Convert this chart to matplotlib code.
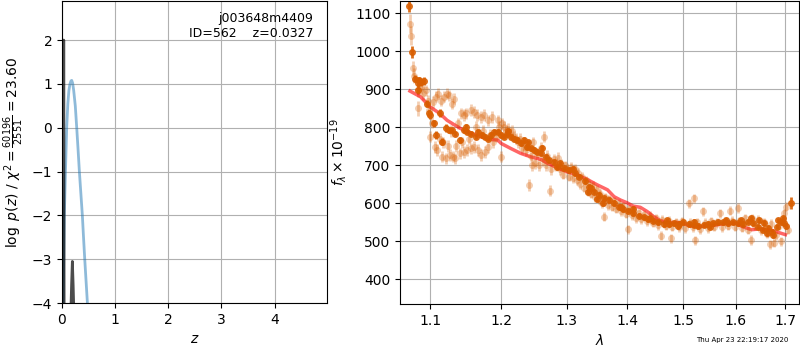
import numpy as np
import matplotlib
matplotlib.use("Agg")
import matplotlib.pyplot as plt
from matplotlib.ticker import NullLocator

# ---------------- left panel data: log p(z) ----------------
z_pz = [0.020, 0.032, 0.044, 0.065, 0.088, 0.110, 0.130, 0.150, 0.170, 0.183,
        0.200, 0.220, 0.250, 0.277, 0.300, 0.327, 0.355, 0.383, 0.405, 0.428,
        0.453, 0.478, 0.490]
logp_pz = [-4.0, -3.0, -2.0, -1.0, 0.0, 0.55, 0.85, 1.00, 1.07, 1.08,
           1.02, 0.85, 0.50, 0.0, -0.45, -1.0, -1.5, -2.0, -2.5, -3.0,
           -3.5, -4.0, -4.3]

z_chi = [0.000, 0.025, 0.0327, 0.040, 0.080, 0.165, 0.180, 0.195, 0.210, 0.225, 0.300]
logp_chi = [-5.0, -4.3, 2.0, -4.3, -6.0, -4.3, -3.6, -3.05, -3.6, -4.3, -6.0]

z_ticks = [0, 1, 2, 3, 4]
logp_ticks = [-4, -3, -2, -1, 0, 1, 2]

# ---------------- right panel data: spectrum ----------------
lam_light = [1.0735, 1.0745, 1.077, 1.079, 1.083, 1.083, 1.087, 1.090, 1.094, 1.097,
             1.099, 1.100, 1.102, 1.104, 1.106, 1.108, 1.109, 1.111, 1.113, 1.115,
             1.116, 1.118, 1.119, 1.121, 1.123, 1.124, 1.126, 1.127, 1.129, 1.130,
             1.131, 1.133, 1.134, 1.136, 1.138, 1.141, 1.142, 1.144, 1.146, 1.147,
             1.150, 1.151, 1.154, 1.156, 1.157, 1.160, 1.161, 1.163, 1.165, 1.167,
             1.170, 1.171, 1.174, 1.175, 1.177, 1.180, 1.181, 1.184, 1.187, 1.188,
             1.192, 1.195, 1.197, 1.200, 1.201, 1.204, 1.207, 1.210, 1.213, 1.216,
             1.219, 1.222, 1.225, 1.228, 1.231, 1.234, 1.237, 1.240, 1.242, 1.244,
             1.246, 1.248, 1.251, 1.254, 1.257, 1.260, 1.263, 1.264, 1.267, 1.270,
             1.274, 1.276, 1.280, 1.283, 1.286, 1.289, 1.292, 1.295, 1.298, 1.301,
             1.304, 1.307, 1.310, 1.313, 1.316, 1.319, 1.322, 1.325, 1.328, 1.331,
             1.334, 1.337, 1.340, 1.343, 1.346, 1.349, 1.352, 1.355, 1.358, 1.361,
             1.363, 1.367, 1.370, 1.374, 1.378, 1.382, 1.386, 1.390, 1.394, 1.398,
             1.402, 1.404, 1.408, 1.412, 1.416, 1.420, 1.425, 1.430, 1.435, 1.440,
             1.445, 1.450, 1.455, 1.460, 1.462, 1.468, 1.474, 1.478, 1.480, 1.486,
             1.492, 1.498, 1.504, 1.510, 1.512, 1.518, 1.520, 1.521, 1.525, 1.531,
             1.537, 1.540, 1.546, 1.552, 1.558, 1.564, 1.570, 1.572, 1.578, 1.584,
             1.588, 1.592, 1.598, 1.604, 1.606, 1.612, 1.618, 1.624, 1.630, 1.632,
             1.638, 1.644, 1.650, 1.656, 1.662, 1.668, 1.670, 1.676, 1.680, 1.686,
             1.690, 1.694, 1.698, 1.702, 1.705]
f_light = [1072, 1040, 955, 935, 897, 850, 905, 890, 897, 870,
           845, 775, 812, 866, 748, 880, 740, 888, 770, 870,
           722, 760, 880, 718, 888, 750, 884, 727, 790, 862,
           722, 875, 718, 750, 810, 731, 836, 760, 832, 735,
           836, 740, 770, 845, 744, 840, 748, 800, 832, 740,
           827, 727, 790, 832, 735, 818, 748, 780, 827, 761,
           775, 818, 800, 722, 810, 801, 790, 795, 780, 790,
           775, 770, 760, 770, 745, 755, 740, 755, 648, 725,
           700, 760, 705, 730, 700, 745, 715, 775, 700, 725,
           633, 690, 715, 700, 720, 690, 700, 675, 700, 690,
           670, 695, 665, 690, 660, 680, 650, 670, 640, 660,
           630, 650, 625, 645, 615, 635, 610, 625, 600, 564,
           615, 595, 610, 590, 605, 585, 598, 578, 592, 572,
           531, 585, 568, 580, 560, 575, 558, 570, 552, 566,
           548, 560, 542, 514, 556, 540, 553, 508, 538, 550,
           536, 552, 534, 600, 548, 536, 613, 502, 550, 532,
           578, 548, 534, 552, 538, 550, 573, 536, 552, 540,
           580, 554, 538, 587, 552, 535, 560, 530, 503, 560,
           540, 556, 528, 550, 520, 492, 545, 496, 515, 540,
           500, 555, 573, 591, 530]
e_light = [25, 25, 20, 20, 18, 20, 18, 18, 15, 15] + [15] * 87 + [12] * 98

lam_dark = [1.072, 1.076, 1.080, 1.083, 1.084, 1.085, 1.088, 1.091, 1.096, 1.098,
            1.100, 1.105, 1.108, 1.113, 1.116, 1.121, 1.125, 1.130, 1.134, 1.141,
            1.146, 1.150, 1.151, 1.156, 1.163, 1.167, 1.172, 1.177, 1.180, 1.185,
            1.190, 1.195, 1.199, 1.204, 1.209, 1.210, 1.214, 1.219, 1.224, 1.229,
            1.234, 1.239, 1.240, 1.244, 1.249, 1.254, 1.260, 1.262, 1.267, 1.272,
            1.280, 1.285, 1.289, 1.296, 1.304, 1.310, 1.313, 1.320, 1.329, 1.335,
            1.337, 1.340, 1.345, 1.350, 1.353, 1.360, 1.361, 1.370, 1.378, 1.386,
            1.390, 1.394, 1.402, 1.410, 1.411, 1.420, 1.429, 1.437, 1.440, 1.446,
            1.455, 1.465, 1.470, 1.474, 1.483, 1.490, 1.492, 1.500, 1.510, 1.519,
            1.520, 1.528, 1.538, 1.547, 1.550, 1.556, 1.566, 1.575, 1.580, 1.585,
            1.594, 1.604, 1.610, 1.613, 1.624, 1.630, 1.634, 1.643, 1.645, 1.653,
            1.655, 1.663, 1.665, 1.673, 1.675, 1.683, 1.685, 1.690, 1.695, 1.697,
            1.702, 1.712]
f_dark = [1118, 998, 928, 915, 897, 923, 919, 921, 862, 836,
          831, 810, 779, 838, 762, 797, 792, 792, 783, 766,
          792, 800, 788, 783, 775, 788, 779, 775, 770, 779,
          788, 788, 779, 775, 783, 790, 775, 770, 766, 757,
          766, 748, 760, 744, 740, 735, 731, 745, 722, 713,
          709, 695, 705, 692, 687, 690, 678, 670, 657, 630,
          643, 640, 630, 610, 622, 600, 613, 608, 600, 591,
          590, 584, 580, 585, 573, 567, 563, 558, 560, 554,
          549, 545, 555, 545, 547, 540, 545, 549, 545, 543,
          550, 540, 543, 545, 538, 547, 549, 549, 555, 547,
          549, 547, 555, 545, 551, 560, 547, 538, 555, 530,
          548, 521, 535, 525, 515, 538, 555, 551, 560, 547,
          540, 600]
e_dark = [15, 15] + [10] * 14 + [7] * 105 + [15]

lam_model = [1.073, 1.087, 1.100, 1.113, 1.123, 1.134, 1.146, 1.158, 1.170, 1.182,
             1.195, 1.200, 1.214, 1.229, 1.244, 1.260, 1.270, 1.287, 1.300, 1.318,
             1.335, 1.350, 1.367, 1.378, 1.389, 1.400, 1.411, 1.423, 1.435, 1.446,
             1.458, 1.471, 1.489, 1.500, 1.513, 1.526, 1.545, 1.563, 1.582, 1.600,
             1.613, 1.631, 1.647, 1.659, 1.673, 1.690, 1.700]
f_model = [895, 880, 853, 836, 818, 805, 792, 783, 775, 768,
           766, 757, 744, 731, 722, 715, 705, 692, 683, 674,
           661, 648, 635, 617, 608, 601, 592, 589, 578, 565,
           554, 549, 549, 547, 540, 538, 540, 543, 547, 547,
           538, 530, 532, 530, 528, 521, 517]

lam_ticks = [1.1, 1.2, 1.3, 1.4, 1.5, 1.6, 1.7]
lam_ticklabels = ["1.1", "1.2", "1.3", "1.4", "1.5", "1.6", "1.7"]
f_ticks = [400, 500, 600, 700, 800, 900, 1000, 1100]

# ---------------- figure ----------------
fig = plt.figure(figsize=(8, 3.5), dpi=100)
ax1 = fig.add_axes([0.0775, 0.134, 0.3315, 0.863])
ax2 = fig.add_axes([0.5, 0.131, 0.499, 0.866])

ax1.plot(z_pz, logp_pz, color="#1f77b4", alpha=0.5, lw=2)
ax1.plot(z_chi, logp_chi, color="k", alpha=0.7, lw=2)
ax1.set_xlim(0, 4.99)
ax1.set_ylim(-4, 2.89)
ax1.set_xticks(z_ticks)
ax1.set_yticks(logp_ticks)
ax1.grid(True)
ax1.set_xlabel(r"$z$")
ax1.set_ylabel(r"$\log\ p(z)$ / $\chi^2=\frac{60196}{2551}=23.60$")
ax1.text(0.948, 0.965, "j003648m4409\nID=562    z=0.0327", transform=ax1.transAxes,
         ha="right", va="top", fontsize=9)

orange = "#d95f02"
ax2.errorbar(lam_light, f_light, yerr=e_light, fmt="o", color=orange, ms=5,
             alpha=0.3, elinewidth=2, mec="none")
ax2.errorbar(lam_dark, f_dark, yerr=e_dark, fmt="o", color=orange, ms=5,
             alpha=0.9, elinewidth=2, mec="none")
ax2.plot(lam_model, f_model, color="red", alpha=0.6, lw=2.5)
ax2.set_xscale("log")
ax2.set_xlim(1.06, 1.729)
ax2.set_ylim(334, 1132)
ax2.set_xticks(lam_ticks)
ax2.set_xticklabels(lam_ticklabels)
ax2.xaxis.set_minor_locator(NullLocator())
ax2.set_yticks(f_ticks)
ax2.grid(True)
ax2.set_xlabel(r"$\lambda$")
ax2.set_ylabel(r"$f_\lambda\times10^{-19}$")

fig.text(0.985, 0.028, "Thu Apr 23 22:19:17 2020", ha="right", va="center", fontsize=5)

fig.savefig("out.png", dpi=100)
